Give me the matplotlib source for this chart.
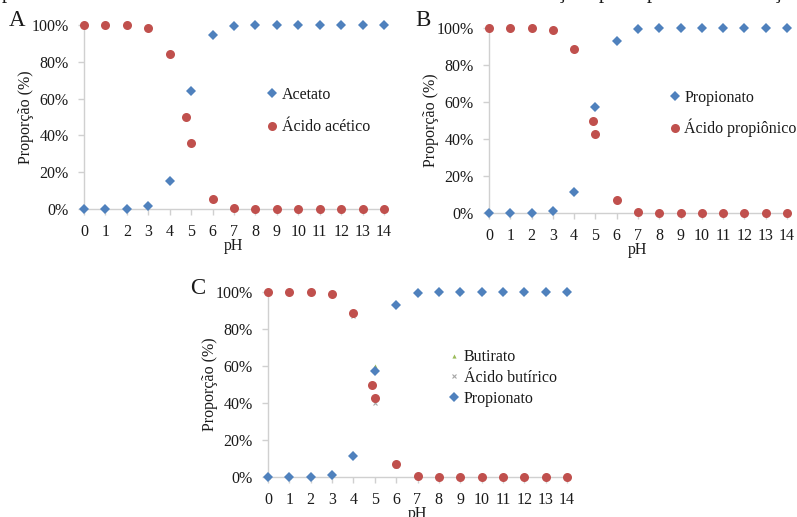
import matplotlib
matplotlib.use("Agg")
import matplotlib.pyplot as plt
from matplotlib.ticker import FuncFormatter, MultipleLocator

plt.rcParams['font.family'] = ['Liberation Serif', 'DejaVu Serif']

# pH grid for the ionised forms, acid forms carry an extra point at the pKa
ph = list(range(15))
ph_acetico = [0, 1, 2, 3, 4, 4.76, 5, 6, 7, 8, 9, 10, 11, 12, 13, 14]
ph_propionico = [0, 1, 2, 3, 4, 4.87, 5, 6, 7, 8, 9, 10, 11, 12, 13, 14]
ph_butirico = [0, 1, 2, 3, 4, 4.82, 5, 6, 7, 8, 9, 10, 11, 12, 13, 14]

acetato = [0, 0, 0, 1.7, 15.2, 64.3, 94.6, 99.4, 99.9, 100, 100, 100, 100, 100, 100]
acido_acetico = [100, 100, 100, 98.3, 84.5, 50.0, 35.7, 5.4, 0.6, 0.1, 0, 0, 0, 0, 0, 0]

propionato = [0, 0, 0.1, 1.2, 11.6, 57.3, 93.1, 99.3, 99.9, 100, 100, 100, 100, 100, 100]
acido_propionico = [100, 100, 99.9, 98.8, 88.4, 50.0, 42.7, 6.9, 0.7, 0.1, 0, 0, 0, 0, 0, 0]

butirato = [0, 0, 0.1, 1.5, 13.1, 60.2, 93.8, 99.3, 99.9, 100, 100, 100, 100, 100, 100]
acido_butirico = [100, 100, 99.9, 98.5, 86.9, 50.0, 39.8, 6.2, 0.7, 0.1, 0, 0, 0, 0, 0, 0]

BLUE = '#4f81bd'
RED = '#c0504d'
GREEN = '#9bbb59'
GRAY = '#a6a6a6'
AXIS = '#d0d0d0'
TXT = '#1a1a1a'
FS = 11.5

W, H = 797, 517
fig = plt.figure(figsize=(W / 100, H / 100), dpi=100)


def make_axes(x0, x14, y100, y0):
    ax = fig.add_axes([x0 / W, 1 - y0 / H, (x14 - x0) / W, (y0 - y100) / H])
    ax.set_xlim(0, 14)
    ax.set_ylim(0, 100)
    ax.xaxis.set_major_locator(MultipleLocator(1))
    ax.yaxis.set_major_locator(MultipleLocator(20))
    ax.yaxis.set_major_formatter(FuncFormatter(lambda v, p: f'{v:.0f}%'))
    for s in ['top', 'right']:
        ax.spines[s].set_visible(False)
    for s in ['left', 'bottom']:
        ax.spines[s].set_color(AXIS)
        ax.spines[s].set_linewidth(1.0)
    ax.tick_params(axis='both', direction='out', length=4, width=1.0,
                   color=AXIS, labelsize=FS, labelcolor=TXT)
    ax.tick_params(axis='x', pad=7)
    ax.tick_params(axis='y', pad=7)
    ax.set_xlabel('pH', fontsize=FS, color=TXT, labelpad=-1.5)
    ax.set_ylabel('Proporção (%)', fontsize=FS, color=TXT, labelpad=-2)
    return ax


def diamonds(ax, x, y, label):
    return ax.plot(x, y, 'D', color=BLUE, ms=5.4, mew=0, clip_on=False,
                   label=label, zorder=3)[0]


def circles(ax, x, y, label):
    return ax.plot(x, y, 'o', color=RED, ms=6.5, mew=0, clip_on=False,
                   label=label, zorder=3)[0]


def legend(ax, handles, anchor, spacing):
    ax.legend(handles=handles, loc='upper left', bbox_to_anchor=anchor,
              frameon=False, fontsize=FS, handlelength=0.6,
              handletextpad=0.3, labelspacing=spacing, borderaxespad=0,
              labelcolor=TXT)


# A: acetic acid
axA = make_axes(84, 384, 25, 209)
h1 = diamonds(axA, ph, acetato, 'Acetato')
h2 = circles(axA, ph_acetico, acido_acetico, 'Ácido acético')
legend(axA, [h1, h2], (0.59, 0.70), 1.05)

# B: propionic acid
axB = make_axes(489, 787, 28, 213)
h1 = diamonds(axB, ph, propionato, 'Propionato')
h2 = circles(axB, ph_propionico, acido_propionico, 'Ácido propiônico')
legend(axB, [h1, h2], (0.585, 0.70), 0.8)

# C: butyric acid series, partly hidden under the propionic markers
axC = make_axes(268, 567, 292, 477)
hb = axC.plot(ph, butirato, '^', color=GREEN, ms=3, mew=0, clip_on=False,
              label='Butirato', zorder=2)[0]
hab = axC.plot(ph_butirico, acido_butirico, 'x', color=GRAY, ms=3, mew=0.8,
               clip_on=False, label='Ácido butírico', zorder=2)[0]
hp = diamonds(axC, ph, propionato, 'Propionato')
circles(axC, ph_propionico, acido_propionico, '_nolegend_')
legend(axC, [hb, hab, hp], (0.585, 0.725), 0.3)

# panel letters
for letter, (x, y) in zip(['A', 'B', 'C'], [(17, 21), (423, 21), (198, 289)]):
    fig.text(x / W, 1 - y / H, letter, fontsize=16.5, color=TXT,
             ha='center', va='center')

# descenders of the text line running above the figure
for ch, x in zip(['p', 'ç', 'p', 'p', 'ç'], [7, 561, 604, 652, 777]):
    fig.text(x / W, 1 + 2 / H, ch, fontsize=15, color=TXT,
             ha='center', va='baseline')

fig.savefig('out.png', dpi=100)
